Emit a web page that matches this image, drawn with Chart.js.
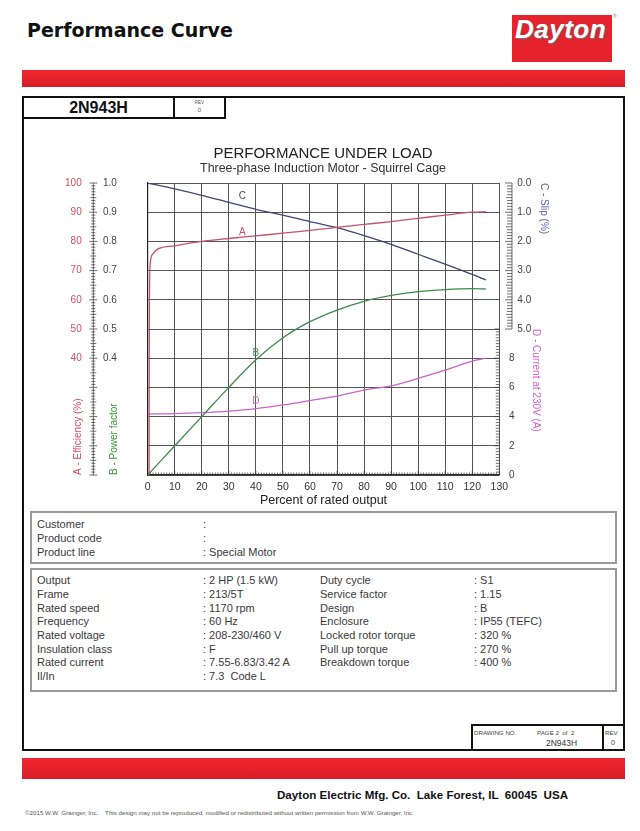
<!DOCTYPE html>
<html>
<head>
<meta charset="utf-8">
<title>Performance Curve 2N943H</title>
<script src="https://cdn.jsdelivr.net/npm/chart.js@4.4.1/dist/chart.umd.min.js"></script>
<style>
  body { margin: 0; background: #fff; font-family: Arial, "Liberation Sans", sans-serif; }
  #page { position: relative; width: 640px; height: 831px; overflow: hidden; }
  .abs { position: absolute; box-sizing: border-box; }
  .redbar { background: linear-gradient(#f1262f, #d81c27); }
  .col { position: absolute; font-size: 11px; line-height: 13.7px; color: #3a3a3a; white-space: pre; }
</style>
</head>
<body>
<div id="page">
  <div class="abs" style="left:27px;top:19px;font:bold 19px 'DejaVu Sans',sans-serif;line-height:22px;color:#111;">Performance Curve</div>

  <div class="abs" style="left:512px;top:15px;width:100px;height:47px;background:#e5232d;">
    <div class="abs" style="left:3px;top:0px;font:italic bold 26px Arial,'Liberation Sans',sans-serif;letter-spacing:0.5px;line-height:28px;color:#fff;text-shadow:1px 1px 0 #777;">Dayton</div>
  </div>
  <div class="abs" style="left:613px;top:13px;font-size:5px;color:#888;">®</div>

  <div class="abs redbar" style="left:22px;top:70px;width:603px;height:17px;"></div>

  <div class="abs" style="left:22px;top:96px;width:603px;height:655px;border:2px solid #111;"></div>
  <div class="abs" style="left:22px;top:96px;width:153px;height:23px;border:2px solid #111;text-align:center;font-weight:bold;font-size:16px;line-height:19px;color:#111;">2N943H</div>
  <div class="abs" style="left:173px;top:96px;width:53px;height:23px;border:2px solid #111;text-align:center;color:#555;">
    <div style="font-size:4.5px;line-height:6px;margin-top:2px;">REV</div>
    <div style="font-size:6px;line-height:8px;">0</div>
  </div>

  <div class="abs" style="left:24px;top:124px;width:598px;height:384px;">
    <canvas id="perf"></canvas>
  </div>

  <div class="abs" style="left:30px;top:511px;width:587px;height:53px;border:2px solid #9a9a9a;"></div>
  <div class="col" style="left:37px;top:518.2px;">Customer
Product code
Product line</div>
  <div class="col" style="left:203px;top:518.2px;">:
:
: Special Motor</div>

  <div class="abs" style="left:30px;top:568px;width:587px;height:124px;border:2px solid #9a9a9a;"></div>
  <div class="col" style="left:37px;top:574.2px;">Output
Frame
Rated speed
Frequency
Rated voltage
Insulation class
Rated current
Il/In</div>
  <div class="col" style="left:203px;top:574.2px;">: 2 HP (1.5 kW)
: 213/5T
: 1170 rpm
: 60 Hz
: 208-230/460 V
: F
: 7.55-6.83/3.42 A
: 7.3  Code L</div>
  <div class="col" style="left:320px;top:574.2px;">Duty cycle
Service factor
Design
Enclosure
Locked rotor torque
Pull up torque
Breakdown torque</div>
  <div class="col" style="left:474px;top:574.2px;">: S1
: 1.15
: B
: IP55 (TEFC)
: 320 %
: 270 %
: 400 %</div>

  <div class="abs" style="left:471px;top:724px;width:154px;height:27px;border:2px solid #111;"></div>
  <div class="abs" style="left:602px;top:724px;width:23px;height:27px;border:2px solid #111;"></div>
  <div class="abs" style="left:474px;top:729px;font-size:6.2px;color:#444;white-space:pre;">DRAWING NO.            PAGE 2  of  2</div>
  <div class="abs" style="left:546px;top:738px;font-size:8.5px;color:#333;">2N943H</div>
  <div class="abs" style="left:605px;top:729px;font-size:6.2px;color:#444;">REV</div>
  <div class="abs" style="left:611px;top:739px;font-size:7px;color:#444;">0</div>

  <div class="abs redbar" style="left:22px;top:758px;width:603px;height:21px;"></div>

  <div class="abs" style="left:277px;top:788px;font-weight:bold;font-size:11.6px;color:#111;white-space:pre;">Dayton Electric Mfg. Co.  Lake Forest, IL  60045  USA</div>
  <div class="abs" style="left:25px;top:809px;font-size:6.2px;color:#555;white-space:pre;">©2015 W.W. Grainger, Inc.    This design may not be reproduced, modified or redistributed without written permission from W.W. Grainger, Inc.</div>
</div>

<script>
// percent of rated output used for curves B, C, D
const loadPct = [0, 10, 20, 30, 40, 50, 60, 70, 80, 90, 100, 110, 120, 125];

// A - efficiency (%), own load points because of the steep start
const effLoad = [0.5, 0.6, 1, 2, 4, 10, 20, 30, 40, 50, 60, 70, 80, 90, 100, 110, 120, 125];
const efficiency = [0, 55, 73, 75.8, 77.5, 78.5, 80, 81, 81.9, 82.8, 83.8, 84.8, 85.8, 86.8, 87.9, 89, 90, 90.2];

// B - power factor
const powerFactor = [0, 0.10, 0.20, 0.30, 0.395, 0.47, 0.525, 0.565, 0.595, 0.615, 0.628, 0.635, 0.638, 0.637];
// C - slip (%)
const slip = [0, 0.2, 0.42, 0.66, 0.9, 1.1, 1.32, 1.53, 1.8, 2.1, 2.44, 2.78, 3.13, 3.32];
// D - current at 230V (A)
const current = [4.18, 4.2, 4.27, 4.38, 4.55, 4.8, 5.1, 5.4, 5.82, 6.1, 6.62, 7.18, 7.8, 8.0];

// letters written next to each curve
const curveTags = ['A', 'B', 'C', 'D'];
const tagLoad = [35, 40, 35, 40];
const tagValue = [83.2, 0.418, 0.47, 5.07];
const tagAxis = ['eff', 'pf', 'slip', 'cur'];

const slipTitle = 'C - Slip (%)';

const colA = '#c8506a';
const colB = '#3f8a4c';
const colC = '#3d4677';
const colD = '#c566c8';

Chart.defaults.font.family = 'Arial, "Liberation Sans", sans-serif';

function pairs(xs, ys) {
    return xs.map((x, i) => ({ x: x, y: ys[i] }));
}

// ruler ticks along the axes, curve letters and the slip title
const rulerPlugin = {
    id: 'rulers',
    afterDatasetsDraw(chart) {
        const ctx = chart.ctx;
        const area = chart.chartArea;
        const s = chart.scales;
        ctx.save();
        ctx.strokeStyle = '#333';
        ctx.lineWidth = 0.7;
        ctx.beginPath();

        // left ruler, between efficiency and power factor labels
        const lx = area.left - 54.4;
        ctx.moveTo(lx, area.top);
        ctx.lineTo(lx, area.bottom);
        for (let v = 0; v <= 100; v++) {
            const y = s.eff.getPixelForValue(v);
            const len = v % 10 === 0 ? 4 : (v % 5 === 0 ? 3 : 2);
            ctx.moveTo(lx - len, y);
            ctx.lineTo(lx + len, y);
        }

        // slip ruler (upper right)
        const rx = area.right + 12.7;
        ctx.moveTo(rx, s.slip.top);
        ctx.lineTo(rx, s.slip.bottom);
        for (let i = 0; i <= 50; i++) {
            const y = s.slip.getPixelForValue(i / 10);
            const len = i % 10 === 0 ? 7 : (i % 5 === 0 ? 6 : 5);
            ctx.moveTo(rx - len, y);
            ctx.lineTo(rx, y);
        }

        // current ruler (lower right, on the border)
        for (let i = 0; i <= 50; i++) {
            const y = s.cur.getPixelForValue(i / 5);
            const len = i % 10 === 0 ? 5 : 3.5;
            ctx.moveTo(area.right - len, y);
            ctx.lineTo(area.right, y);
        }

        // bottom ruler
        for (let v = 0; v <= 130; v++) {
            const x = s.x.getPixelForValue(v);
            const len = v % 10 === 0 ? 4 : 2.5;
            ctx.moveTo(x, area.bottom - len);
            ctx.lineTo(x, area.bottom);
        }
        ctx.stroke();

        // curve letters
        const tagColors = [colA, colB, colC, colD];
        ctx.font = '10px Arial, "Liberation Sans", sans-serif';
        ctx.textAlign = 'center';
        ctx.textBaseline = 'middle';
        for (let i = 0; i < curveTags.length; i++) {
            ctx.fillStyle = tagColors[i];
            ctx.fillText(curveTags[i], s.x.getPixelForValue(tagLoad[i]), s[tagAxis[i]].getPixelForValue(tagValue[i]));
        }

        // slip axis title, read top to bottom from the top of the axis
        ctx.translate(area.right + 44, s.slip.top);
        ctx.rotate(Math.PI / 2);
        ctx.textAlign = 'left';
        ctx.fillStyle = '#5a5aa8';
        ctx.fillText(slipTitle, 0, 0);
        ctx.restore();
    }
};

const hiddenGrid = { drawOnChartArea: false, drawTicks: false };

new Chart(document.getElementById('perf'), {
    type: 'line',
    data: {
        datasets: [{
            label: 'A - Efficiency',
            data: pairs(effLoad, efficiency),
            yAxisID: 'eff',
            borderColor: colA
        }, {
            label: 'B - Power factor',
            data: pairs(loadPct, powerFactor),
            yAxisID: 'pf',
            borderColor: colB
        }, {
            label: 'C - Slip',
            data: pairs(loadPct, slip),
            yAxisID: 'slip',
            borderColor: colC
        }, {
            label: 'D - Current',
            data: pairs(loadPct, current),
            yAxisID: 'cur',
            borderColor: colD
        }]
    },
    options: {
        responsive: true,
        maintainAspectRatio: false,
        animation: false,
        elements: {
            point: { radius: 0 },
            line: { borderWidth: 1.3, cubicInterpolationMode: 'monotone', fill: false }
        },
        layout: { padding: 0 },
        plugins: {
            legend: { display: false },
            tooltip: { enabled: false },
            title: {
                display: true,
                text: 'PERFORMANCE UNDER LOAD',
                color: '#222',
                font: { size: 15, weight: 'normal', lineHeight: 1 },
                padding: { top: 22.5, bottom: 0 }
            },
            subtitle: {
                display: true,
                text: 'Three-phase Induction Motor - Squirrel Cage',
                color: '#333',
                font: { size: 12.4, lineHeight: 1 },
                padding: { top: 1.3, bottom: 7.8 }
            }
        },
        scales: {
            x: {
                type: 'linear',
                min: 0,
                max: 130,
                ticks: { stepSize: 10, color: '#333', font: { size: 10.5 }, padding: 5.7 },
                grid: { color: '#555', lineWidth: 1, drawTicks: false },
                border: { color: '#222', width: 1.2 },
                title: {
                    display: true,
                    text: 'Percent of rated output',
                    color: '#222',
                    font: { size: 12.5 },
                    padding: { top: 0, bottom: 0 }
                },
                afterFit(scale) { scale.height = 33; }
            },
            eff: {
                position: 'left',
                weight: 1,
                min: 0,
                max: 100,
                ticks: {
                    stepSize: 10,
                    color: '#d0505f',
                    font: { size: 10 },
                    padding: 21.3,
                    callback: (v) => v >= 40 ? v : ''
                },
                grid: hiddenGrid,
                border: { display: false },
                title: {
                    display: true,
                    text: 'A - Efficiency (%)',
                    align: 'start',
                    color: '#d0505f',
                    font: { size: 10 },
                    padding: { top: 48, bottom: 0 }
                },
                afterFit(scale) { scale.width = 79; }
            },
            pf: {
                position: 'left',
                weight: 0,
                min: 0,
                max: 1,
                ticks: {
                    stepSize: 0.1,
                    color: '#444',
                    font: { size: 10 },
                    crossAlign: 'far',
                    callback: (v) => v >= 0.4 - 1e-9 ? v.toFixed(1) : ''
                },
                grid: { color: '#555', lineWidth: 1, drawTicks: false },
                border: { color: '#222', width: 1.2 },
                title: {
                    display: true,
                    text: 'B - Power factor',
                    align: 'start',
                    color: '#3a9a3a',
                    font: { size: 10 },
                    padding: { top: 5, bottom: 0 }
                },
                afterFit(scale) { scale.width = 44.7; }
            },
            slip: {
                position: 'right',
                stack: 'right',
                stackWeight: 1,
                min: 0,
                max: 5,
                reverse: true,
                ticks: {
                    stepSize: 1,
                    color: '#444',
                    font: { size: 10 },
                    padding: 18,
                    callback: (v) => v.toFixed(1)
                },
                grid: hiddenGrid,
                border: { display: false },
                afterFit(scale) { scale.width = 122.7; }
            },
            cur: {
                position: 'right',
                stack: 'right',
                stackWeight: 1,
                min: 0,
                max: 10,
                ticks: {
                    stepSize: 2,
                    color: '#444',
                    font: { size: 10 },
                    padding: 9.7,
                    callback: (v) => v <= 8 ? v : ''
                },
                grid: hiddenGrid,
                border: { display: false },
                title: {
                    display: true,
                    text: 'D - Current at 230V (A)',
                    align: 'end',
                    color: '#d060d0',
                    font: { size: 10 },
                    padding: { top: 80, bottom: 0 }
                },
                afterFit(scale) { scale.width = 122.7; }
            }
        }
    },
    plugins: [rulerPlugin]
});
</script>
</body>
</html>
